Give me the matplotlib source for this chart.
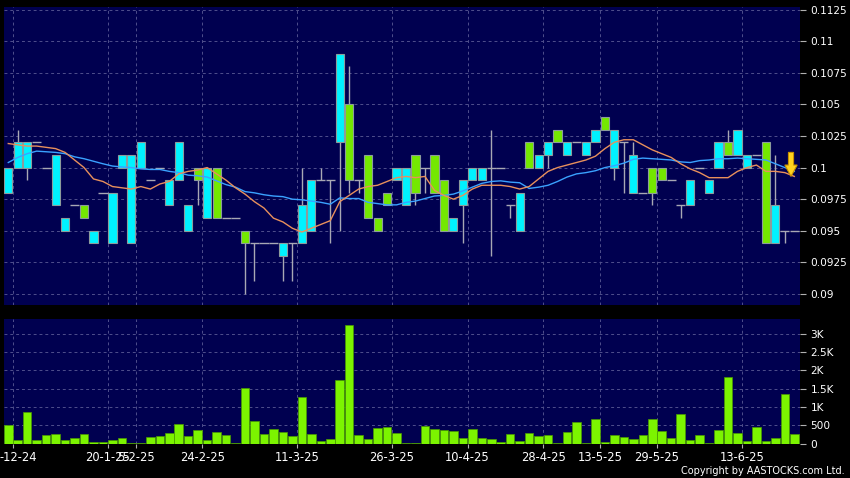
import numpy as np
import matplotlib
matplotlib.use('Agg')
import matplotlib.pyplot as plt
from matplotlib.transforms import ScaledTranslation

# daily candles (price in HKD), one entry per trading bar
open_ = [0.098, 0.100, 0.100, 0.102, 0.100, 0.097, 0.095, 0.097, 0.097, 0.094,
         0.098, 0.094, 0.100, 0.094, 0.100, 0.099, 0.100, 0.097, 0.099, 0.095,
         0.100, 0.096, 0.100, 0.096, 0.096, 0.095, 0.094, 0.094, 0.094, 0.093,
         0.094, 0.094, 0.095, 0.099, 0.099, 0.102, 0.105, 0.099, 0.101, 0.096,
         0.098, 0.099, 0.097, 0.101, 0.100, 0.101, 0.099, 0.095, 0.097, 0.099,
         0.099, 0.100, 0.100, 0.097, 0.095, 0.102, 0.100, 0.101, 0.103, 0.101,
         0.102, 0.101, 0.102, 0.104, 0.100, 0.102, 0.098, 0.098, 0.100, 0.100,
         0.099, 0.097, 0.097, 0.100, 0.098, 0.100, 0.102, 0.101, 0.100, 0.101,
         0.102, 0.094, 0.095, 0.095]
close_ = [0.100, 0.102, 0.102, 0.102, 0.100, 0.101, 0.096, 0.097, 0.096, 0.095,
          0.098, 0.098, 0.101, 0.101, 0.102, 0.099, 0.100, 0.099, 0.102, 0.097,
          0.099, 0.100, 0.096, 0.096, 0.096, 0.094, 0.094, 0.094, 0.094, 0.094,
          0.094, 0.097, 0.099, 0.099, 0.099, 0.109, 0.099, 0.099, 0.096, 0.095,
          0.097, 0.100, 0.100, 0.098, 0.100, 0.098, 0.095, 0.096, 0.099, 0.100,
          0.100, 0.100, 0.100, 0.097, 0.098, 0.100, 0.101, 0.102, 0.102, 0.102,
          0.102, 0.102, 0.103, 0.103, 0.103, 0.102, 0.101, 0.098, 0.098, 0.099,
          0.099, 0.097, 0.099, 0.100, 0.099, 0.102, 0.101, 0.103, 0.101, 0.101,
          0.094, 0.097, 0.095, 0.095]
high_ = [0.100, 0.103, 0.102, 0.102, 0.100, 0.101, 0.096, 0.097, 0.097, 0.095,
         0.098, 0.098, 0.101, 0.101, 0.102, 0.099, 0.100, 0.099, 0.102, 0.097,
         0.100, 0.100, 0.100, 0.096, 0.096, 0.095, 0.094, 0.094, 0.094, 0.094,
         0.094, 0.100, 0.099, 0.100, 0.099, 0.109, 0.108, 0.099, 0.101, 0.096,
         0.098, 0.100, 0.100, 0.101, 0.100, 0.101, 0.099, 0.096, 0.099, 0.100,
         0.100, 0.103, 0.100, 0.097, 0.098, 0.102, 0.101, 0.102, 0.103, 0.102,
         0.102, 0.102, 0.103, 0.104, 0.103, 0.102, 0.102, 0.098, 0.100, 0.100,
         0.099, 0.097, 0.099, 0.100, 0.099, 0.102, 0.103, 0.103, 0.101, 0.101,
         0.102, 0.101, 0.095, 0.095]
low_ = [0.098, 0.100, 0.099, 0.102, 0.100, 0.097, 0.095, 0.097, 0.096, 0.094,
        0.098, 0.094, 0.100, 0.094, 0.100, 0.099, 0.100, 0.097, 0.099, 0.095,
        0.097, 0.096, 0.096, 0.096, 0.096, 0.090, 0.091, 0.094, 0.094, 0.091,
        0.091, 0.094, 0.095, 0.099, 0.094, 0.095, 0.098, 0.098, 0.096, 0.095,
        0.097, 0.099, 0.097, 0.097, 0.098, 0.098, 0.095, 0.095, 0.094, 0.099,
        0.099, 0.093, 0.100, 0.096, 0.095, 0.100, 0.100, 0.100, 0.102, 0.101,
        0.102, 0.101, 0.102, 0.103, 0.099, 0.098, 0.098, 0.098, 0.097, 0.099,
        0.099, 0.096, 0.097, 0.100, 0.098, 0.100, 0.101, 0.101, 0.100, 0.101,
        0.094, 0.094, 0.094, 0.095]

# moving averages as drawn (orange = 10 day, blue = 20 day)
ma10 = [0.1019, 0.1018, 0.1017, 0.1017, 0.1016, 0.1015, 0.1012, 0.1006, 0.1000, 0.0991,
        0.0989, 0.0985, 0.0984, 0.0983, 0.0985, 0.0983, 0.0987, 0.0989, 0.0995, 0.0997,
        0.0998, 0.1000, 0.0995, 0.0990, 0.0984, 0.0979, 0.0973, 0.0968, 0.0960, 0.0957,
        0.0952, 0.0949, 0.0952, 0.0955, 0.0958, 0.0973, 0.0978, 0.0983, 0.0985, 0.0986,
        0.0989, 0.0992, 0.0993, 0.0992, 0.0993, 0.0982, 0.0978, 0.0975, 0.0978, 0.0983,
        0.0986, 0.0986, 0.0986, 0.0985, 0.0983, 0.0985, 0.0991, 0.0997, 0.1000, 0.1002,
        0.1004, 0.1006, 0.1009, 0.1015, 0.1020, 0.1022, 0.1022, 0.1018, 0.1014, 0.1011,
        0.1008, 0.1003, 0.0999, 0.0996, 0.0992, 0.0992, 0.0992, 0.0997, 0.1000, 0.1002,
        0.0997, 0.0997, 0.0996, 0.0993]
ma20 = [0.10040, 0.10080, 0.10110, 0.10130, 0.10125, 0.10120, 0.10110, 0.10085, 0.10070, 0.10050,
        0.10030, 0.10012, 0.10005, 0.10000, 0.09990, 0.09985, 0.09985, 0.09970, 0.09960, 0.09940,
        0.09935, 0.09925, 0.09895, 0.09865, 0.09845, 0.09810, 0.09800, 0.09785, 0.09775, 0.09770,
        0.09750, 0.09745, 0.09735, 0.09725, 0.09710, 0.09760, 0.09755, 0.09755, 0.09725, 0.09715,
        0.09705, 0.09705, 0.09725, 0.09735, 0.09755, 0.09775, 0.09780, 0.09790, 0.09815, 0.09845,
        0.09875, 0.09890, 0.09895, 0.09885, 0.09880, 0.09835, 0.09845, 0.09860, 0.09890, 0.09925,
        0.09950, 0.09960, 0.09975, 0.10000, 0.10015, 0.10035, 0.10065, 0.10075, 0.10070, 0.10065,
        0.10060, 0.10045, 0.10040, 0.10055, 0.10060, 0.10070, 0.10070, 0.10075, 0.10070, 0.10065,
        0.10060, 0.10030, 0.10000, 0.09970]

volume = [500, 90, 870, 90, 230, 265, 85, 145, 265, 45,
          30, 90, 140, 15, 15, 185, 200, 275, 530, 200,
          360, 90, 310, 220, 15, 1530, 605, 250, 395, 320,
          210, 1275, 265, 65, 130, 1740, 3255, 220, 110, 415,
          440, 285, 25, 25, 485, 395, 360, 340, 140, 395,
          155, 110, 45, 255, 75, 275, 200, 230, 5, 320,
          595, 20, 680, 35, 240, 185, 130, 230, 680, 330,
          145, 815, 90, 220, 5, 375, 1815, 295, 75, 450,
          55, 155, 1355, 255]

date_bars = [0, 10, 13, 20, 30, 40, 48, 56, 62, 68, 77]
date_labels = ['-12-24', '20-1-25', '5-2-25', '24-2-25', '11-3-25', '26-3-25',
               '10-4-25', '28-4-25', '13-5-25', '29-5-25', '13-6-25']
price_ticks = [0.09, 0.0925, 0.095, 0.0975, 0.1, 0.1025, 0.105, 0.1075, 0.11, 0.1125]
price_labels = ['0.09', '0.0925', '0.095', '0.0975', '0.1', '0.1025', '0.105', '0.1075', '0.11', '0.1125']
vol_ticks = [0, 500, 1000, 1500, 2000, 2500, 3000]
vol_labels = ['0', '500', '1K', '1.5K', '2K', '2.5K', '3K']

NAVY = '#000050'
GRID = '#4f4f8c'
CYAN = '#00f2ff'
GREEN = '#74e800'
EDGE = '#8c9c9c'
WICK = '#a8a8b4'

o = np.array(open_)
c = np.array(close_)
h = np.array(high_)
l = np.array(low_)
x = np.arange(len(c))
up = c > o + 1e-9
down = c < o - 1e-9
flat = ~(up | down)

fig = plt.figure(figsize=(8.5, 4.78), dpi=100, facecolor='black')
ax = fig.add_axes([4/850, 1-305/478, 796/850, 298/478])
axv = fig.add_axes([4/850, 1-443.5/478, 796/850, 124.5/478])

for a in (ax, axv):
    a.set_facecolor(NAVY)
    for s in a.spines.values():
        s.set_visible(False)
    a.set_xlim(-0.45, 83.6)
    a.set_axisbelow(True)
    a.grid(True, color=GRID, linestyle=(0, (3, 3)), linewidth=0.7)
    a.yaxis.tick_right()
    a.tick_params(axis='y', length=4.5, width=0.8, pad=3, color='#b0b0b0',
                  labelcolor='white', labelsize=7.6)
    a.set_xticks([b + 0.5 for b in date_bars])

# candles
ax.vlines(x, l, h, color=WICK, linewidth=1, zorder=2)
ax.bar(x[up], (c - o)[up], bottom=o[up], width=0.86, color=CYAN,
       edgecolor=EDGE, linewidth=0.8, zorder=3)
ax.bar(x[down], (o - c)[down], bottom=c[down], width=0.86, color=GREEN,
       edgecolor=EDGE, linewidth=0.8, zorder=3)
ax.hlines(c[flat], x[flat] - 0.48, x[flat] + 0.48, color=WICK, linewidth=1, zorder=3)

ax.plot(x, ma20, color='#3aa2ff', linewidth=1, zorder=4)
ax.plot(x, ma10, color='#e8905c', linewidth=1, zorder=4)

# yellow down arrow at the last bar
ax_x = x[-1] - 0.35
tip = ma10[-1]
arrow = np.array([[ax_x - 0.27, tip + 0.0019], [ax_x + 0.27, tip + 0.0019],
                  [ax_x + 0.27, tip + 0.0009], [ax_x + 0.65, tip + 0.0009],
                  [ax_x, tip], [ax_x - 0.65, tip + 0.0009], [ax_x - 0.27, tip + 0.0009]])
ax.fill(arrow[:, 0], arrow[:, 1], facecolor='#ffd21f', edgecolor='#c89000',
        linewidth=0.8, zorder=5)

ax.set_ylim(0.08913, 0.1127)
ax.set_yticks(price_ticks)
ax.set_yticklabels(price_labels)
ax.tick_params(axis='x', length=0, labelbottom=False)

# volume
axv.bar(x, volume, width=0.9, color='#7cf400', edgecolor='#4a9a00', linewidth=0.5, zorder=3)
axv.set_ylim(0, 3410)
axv.set_yticks(vol_ticks)
axv.set_yticklabels(vol_labels)
axv.set_xticklabels(date_labels)
axv.tick_params(axis='x', length=3, width=0.8, pad=2.5, color='#b0b0b0',
                labelcolor='white', labelsize=8.3)

first = axv.get_xticklabels()[0]
first.set_horizontalalignment('left')
first.set_transform(first.get_transform() + ScaledTranslation(-13/100, 0, fig.dpi_scale_trans))

fig.text(845/850, 1-471.5/478, 'Copyright by AASTOCKS.com Ltd.', color='white',
         fontsize=7, ha='right', va='center')

fig.savefig('out.png', dpi=100, facecolor='black')
